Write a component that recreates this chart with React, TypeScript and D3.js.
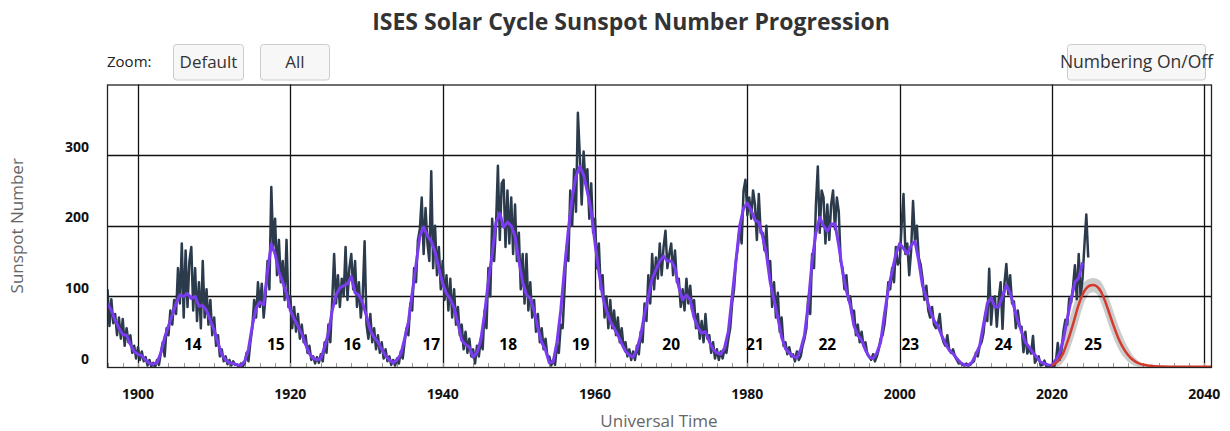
import React from 'react';
import * as d3 from 'd3';

// ---------- DATA ----------
// Monthly sunspot number (v2), sampled four times per year starting 1896.0
const MONTHLY_START = 1896;
const MONTHLY_STEP = 0.25;
const monthlySunspots = [
  110, 58, 96, 62, 75, 45, 70, 40, 68, 30, 55, 35, 45, 20, 30, 12, // 1896-1899
  28, 10, 22, 8, 14, 2, 10, 1, 6, 0, 10, 3, 20, 35, 15, 55, 45, 80, 60, 95, // 1900-1904
  75, 140, 90, 175, 70, 165, 85, 150, 170, 80, 140, 65, 120, 55, 150, 70, 110, 60, 95, 45, // 1905-1909
  70, 30, 45, 15, 25, 8, 15, 4, 10, 2, 8, 3, 4, 0, 5, 1, 5, 20, 8, 35, // 1910-1914
  55, 95, 70, 120, 85, 118, 70, 100, 150, 110, 255, 170, 210, 130, 180, 120, 150, 95, 180, 85, // 1915-1919
  100, 55, 85, 50, 75, 40, 60, 35, 45, 20, 30, 10, 15, 5, 14, 6, 18, 8, 35, 20, // 1920-1924
  60, 35, 95, 160, 90, 130, 85, 125, 100, 170, 95, 140, 160, 110, 150, 85, 120, 70, 100, 178, // 1925-1929
  60, 40, 75, 35, 55, 25, 45, 20, 35, 12, 25, 8, 15, 3, 10, 2, 12, 5, 22, 12, // 1930-1934
  35, 55, 45, 90, 80, 140, 120, 180, 195, 240, 160, 225, 175, 150, 277, 140, 200, 130, 170, 110, // 1935-1939
  150, 95, 130, 80, 125, 70, 110, 60, 85, 45, 60, 25, 50, 20, 40, 15, 25, 5, 30, 15, // 1940-1944
  40, 25, 80, 55, 140, 100, 210, 150, 200, 285, 180, 260, 265, 170, 250, 175, 240, 160, 230, 150, // 1945-1949
  190, 110, 160, 90, 160, 80, 120, 70, 95, 50, 75, 35, 55, 25, 40, 15, 15, 2, 10, 3, // 1950-1954
  30, 20, 60, 55, 110, 170, 150, 250, 200, 280, 220, 360, 300, 230, 305, 260, 280, 210, 260, 190, // 1955-1959
  210, 140, 175, 110, 130, 70, 100, 55, 95, 55, 80, 45, 70, 35, 55, 28, 35, 15, 25, 10, // 1960-1964
  22, 10, 30, 18, 50, 35, 90, 65, 130, 90, 160, 110, 155, 125, 175, 130, 170, 193, 140, 160, // 1965-1969
  175, 130, 165, 120, 125, 85, 110, 80, 125, 90, 115, 80, 95, 55, 75, 40, 65, 35, 75, 40, // 1970-1974
  45, 20, 35, 12, 25, 10, 22, 12, 25, 20, 40, 55, 90, 110, 150, 170, 200, 175, 250, 265, // 1975-1979
  215, 240, 210, 250, 230, 180, 245, 190, 190, 165, 200, 140, 150, 85, 120, 70, 105, 50, 70, 30, // 1980-1984
  35, 18, 28, 15, 18, 8, 22, 10, 15, 30, 40, 55, 100, 75, 160, 140, 230, 284, 190, 250, // 1985-1989
  240, 175, 230, 180, 230, 250, 195, 240, 220, 150, 140, 110, 130, 95, 100, 75, 80, 45, 60, 35, // 1990-1994
  50, 30, 35, 18, 15, 10, 18, 8, 15, 25, 40, 45, 60, 85, 120, 110, 140, 120, 170, 145, // 1995-1999
  150, 200, 245, 160, 175, 130, 165, 235, 180, 200, 155, 145, 125, 95, 115, 80, 70, 85, 60, 55, // 2000-2004
  60, 75, 45, 35, 30, 45, 25, 20, 25, 15, 10, 5, 6, 3, 2, 5, 2, 3, 6, 8, // 2005-2009
  20, 15, 30, 35, 48, 76, 65, 139, 60, 96, 100, 57, 96, 120, 54, 118, 146, 103, 130, 90, // 2010-2014
  93, 55, 80, 58, 57, 21, 50, 19, 26, 19, 44, 6, 11, 15, 2, 3, 9, 1, 0.5, 1.5, // 2015-2019
  2, 0.2, 7, 34, 10, 25, 51, 67, 60, 97, 91, 113, 144, 96, 160, 99, 125, 172, 216, 155, // 2020-2024
];

// 13-month smoothed sunspot number, sampled twice per year starting 1896.0
const SMOOTHED_START = 1896;
const SMOOTHED_STEP = 0.5;
const smoothedSunspots = [
  90, 80, 66, 55, 46, 45, 32, 22, // 1896-1899
  18, 16, 10, 5, 4, 6, 20, 42, 58, 74, // 1900-1904
  90, 102, 100, 104, 97, 100, 86, 87, 80, 66, // 1905-1909
  52, 34, 18, 10, 6, 5, 3, 2, 8, 25, // 1910-1914
  58, 83, 92, 88, 135, 174, 160, 135, 120, 104, // 1915-1919
  80, 68, 58, 47, 32, 19, 12, 10, 12, 28, // 1920-1924
  48, 80, 102, 112, 115, 118, 128, 105, 102, 90, // 1925-1929
  72, 52, 42, 35, 25, 16, 10, 6, 10, 18, // 1930-1934
  40, 64, 105, 145, 185, 198, 186, 178, 163, 140, // 1935-1939
  118, 104, 96, 84, 62, 38, 32, 28, 14, 20, // 1940-1944
  38, 75, 122, 160, 205, 218, 198, 205, 200, 185, // 1945-1949
  151, 120, 102, 97, 80, 55, 35, 24, 6, 7, // 1950-1954
  35, 80, 140, 195, 240, 270, 284, 272, 248, 220, // 1955-1959
  175, 135, 100, 80, 65, 55, 45, 33, 22, 17, // 1960-1964
  14, 25, 45, 75, 100, 125, 138, 150, 157, 150, // 1965-1969
  150, 140, 113, 95, 102, 95, 70, 56, 48, 50, // 1970-1974
  36, 25, 20, 18, 27, 50, 100, 150, 200, 225, // 1975-1979
  232, 222, 208, 205, 185, 160, 120, 95, 70, 42, // 1980-1984
  26, 20, 15, 13, 25, 45, 90, 150, 190, 212, // 1985-1989
  200, 192, 202, 203, 172, 135, 108, 88, 58, 45, // 1990-1994
  38, 24, 14, 12, 20, 35, 75, 110, 135, 160, // 1995-1999
  175, 168, 160, 172, 178, 150, 115, 98, 80, 66, // 2000-2004
  58, 45, 33, 24, 19, 12, 6, 3, 2.5, 7, // 2005-2009
  18, 30, 60, 90, 98, 85, 85, 100, 116, 105, // 2010-2014
  85, 65, 50, 35, 28, 20, 14, 7, 5, 3, // 2015-2019
  2.5, 10, 20, 40, 68, 95, 120, 126, 148, // 2020-2024.0
];

// Predicted cycle 25 (NOAA/ISES panel) with its uncertainty range
const predictedYears = [
  2019.9, 2020.4, 2020.9, 2021.4, 2021.9, 2022.4, 2022.9, 2023.4, 2023.9, 2024.4,
  2024.9, 2025.4, 2025.9, 2026.4, 2026.9, 2027.4, 2027.9, 2028.4, 2028.9, 2029.4,
  2029.9, 2030.4, 2030.9, 2031.4, 2031.9, 2032.4, 2032.9, 2033.4, 2034.4, 2035.4,
  2036.4, 2037.4, 2038.4, 2039.4, 2040.4, 2041.4,
];
const predictedValues = [
  2, 5, 10, 18, 32, 48, 66, 85, 100, 110,
  115, 116, 114, 107, 95, 80, 64, 49, 36, 26,
  18, 12, 8, 5, 3.5, 2.5, 1.8, 1.2, 0.8, 0.5,
  0.4, 0.3, 0.3, 0.3, 0.3, 0.3,
];
const predictedHigh = [
  7, 13, 22, 36, 54, 72, 91, 106, 116, 122,
  125, 126, 125, 121, 112, 99, 84, 68, 53, 40,
  29, 20, 13, 8, 5, 3, 1.8,
];
const predictedLow = [
  0, 0, 1, 6, 14, 28, 44, 62, 81, 96,
  104, 106, 103, 92, 77, 61, 46, 33, 22, 14,
  8, 4, 1.5, 0.5, 0, 0, 0,
];

const cycleNumbers = ['14', '15', '16', '17', '18', '19', '20', '21', '22', '23', '24', '25'];
const cycleLabelYears = [1907.2, 1918.1, 1928.1, 1938.5, 1948.6, 1958.1, 1970.0, 1981.0, 1990.5, 2001.4, 2013.6, 2025.4];

const xTickYears = [1900, 1920, 1940, 1960, 1980, 2000, 2020, 2040];
const yTickValues = [0, 100, 200, 300];

const titleText = 'ISES Solar Cycle Sunspot Number Progression';
const xAxisTitle = 'Universal Time';
const yAxisTitle = 'Sunspot Number';

// ---------- LAYOUT ----------
const W = 1230;
const H = 431;
const PLOT = { left: 107, right: 1212, top: 84.5, bottom: 367 };
const FONT = "'Open Sans', 'Noto Sans', sans-serif";

type Pt = [number, number];

export default function App() {
  const x = d3.scaleLinear().domain([1895.93, 2041.0]).range([PLOT.left, PLOT.right]);
  const y = d3.scaleLinear().domain([0, 400]).range([PLOT.bottom, PLOT.top]);

  const monthlyPts: Pt[] = monthlySunspots.map((v, i) => [MONTHLY_START + i * MONTHLY_STEP, v]);
  const smoothedPts: Pt[] = smoothedSunspots.map((v, i) => [SMOOTHED_START + i * SMOOTHED_STEP, v]);
  const predictedPts: Pt[] = predictedYears.map((yr, i) => [yr, predictedValues[i]]);
  const rangeRows = predictedHigh.map((hi, i) => ({ t: predictedYears[i], hi, lo: predictedLow[i] }));

  const line = d3
    .line<Pt>()
    .x((d) => x(d[0]))
    .y((d) => y(d[1]));
  const smoothLine = d3
    .line<Pt>()
    .x((d) => x(d[0]))
    .y((d) => y(d[1]))
    .curve(d3.curveMonotoneX);
  const rangeArea = d3
    .area<{ t: number; hi: number; lo: number }>()
    .x((d) => x(d.t))
    .y0((d) => y(d.lo))
    .y1((d) => y(d.hi))
    .curve(d3.curveMonotoneX);

  const minorTicks = d3.range(1896, 2041, 2);
  const crisp = (v: number) => Math.round(v) + 0.5;

  const gridColor = '#111';

  return (
    <svg
      width={W}
      height={H}
      style={{ position: 'absolute', left: 0, top: 0, background: '#fff' }}
      fontFamily={FONT}
    >
      <defs>
        <clipPath id="plotClip">
          <rect x={PLOT.left} y={PLOT.top} width={PLOT.right - PLOT.left} height={PLOT.bottom - PLOT.top} />
        </clipPath>
      </defs>

      {/* Title */}
      <text x={631} y={30} textAnchor="middle" fontSize={23} fontWeight={700} fill="#333">
        {titleText}
      </text>

      {/* Zoom buttons */}
      <text x={107} y={67} fontSize={15} fill="#222">
        Zoom:
      </text>
      <rect x={173.5} y={44.5} width={70} height={35.5} rx={3} fill="#f7f7f7" stroke="#cccccc" />
      <text x={208.5} y={68} textAnchor="middle" fontSize={17} fill="#333">
        Default
      </text>
      <rect x={260.5} y={44.5} width={69} height={35.5} rx={3} fill="#f7f7f7" stroke="#cccccc" />
      <text x={295} y={68} textAnchor="middle" fontSize={17} fill="#333">
        All
      </text>
      <rect x={1067.5} y={44.5} width={138} height={35.5} rx={3} fill="#f7f7f7" stroke="#cccccc" />
      <text x={1136.5} y={68} textAnchor="middle" fontSize={17.5} fill="#333">
        Numbering On/Off
      </text>

      {/* Grid */}
      {yTickValues
        .filter((v) => v > 0)
        .map((v) => (
          <line key={'gy' + v} x1={PLOT.left} x2={PLOT.right} y1={crisp(y(v))} y2={crisp(y(v))} stroke={gridColor} strokeWidth={1.3} />
        ))}
      {xTickYears.map((yr) => (
        <line key={'gx' + yr} x1={crisp(x(yr))} x2={crisp(x(yr))} y1={PLOT.top} y2={PLOT.bottom} stroke={gridColor} strokeWidth={1.3} />
      ))}
      {minorTicks.map((yr) => (
        <line key={'mt' + yr} x1={crisp(x(yr))} x2={crisp(x(yr))} y1={PLOT.bottom} y2={PLOT.bottom - 4} stroke="#999" strokeWidth={1} />
      ))}

      {/* Series */}
      <g clipPath="url(#plotClip)">
        <path d={rangeArea(rangeRows) || ''} fill="#000" fillOpacity={0.2} stroke="none" />
        <path d={line(monthlyPts) || ''} fill="none" stroke="#2b3b4c" strokeWidth={2.5} strokeLinejoin="round" />
        <path d={line(smoothedPts) || ''} fill="none" stroke="#7b3cf0" strokeWidth={3} strokeLinejoin="round" />
        <path d={smoothLine(predictedPts) || ''} fill="none" stroke="#d33a2c" strokeWidth={2.5} strokeLinejoin="round" />
      </g>

      {/* Frame */}
      <rect
        x={PLOT.left + 0.5}
        y={crisp(PLOT.top) - 0.5}
        width={PLOT.right - PLOT.left - 1}
        height={PLOT.bottom - PLOT.top}
        fill="none"
        stroke="#222"
        strokeWidth={1.3}
      />

      {/* Cycle labels */}
      {cycleNumbers.map((n, i) => (
        <text
          key={'c' + n}
          x={x(cycleLabelYears[i])}
          y={y(0) - 17.5}
          textAnchor="middle"
          fontSize={15.5}
          fontWeight={700}
          fill="#000"
        >
          {n}
        </text>
      ))}

      {/* Y axis labels */}
      {yTickValues.map((v) => (
        <text key={'yl' + v} x={89} y={y(v) - 3.5} textAnchor="end" fontSize={14} fontWeight={700} fill="#111">
          {v}
        </text>
      ))}

      {/* X axis labels */}
      {xTickYears.map((yr) => (
        <text key={'xl' + yr} x={x(yr)} y={398.5} textAnchor="middle" fontSize={14} fontWeight={700} fill="#111">
          {yr}
        </text>
      ))}

      {/* Axis titles */}
      <text x={659} y={427} textAnchor="middle" fontSize={17} fill="#666">
        {xAxisTitle}
      </text>
      <text
        transform={`translate(23, ${(PLOT.top + PLOT.bottom) / 2}) rotate(-90)`}
        textAnchor="middle"
        fontSize={17}
        fill="#666"
      >
        {yAxisTitle}
      </text>
    </svg>
  );
}
